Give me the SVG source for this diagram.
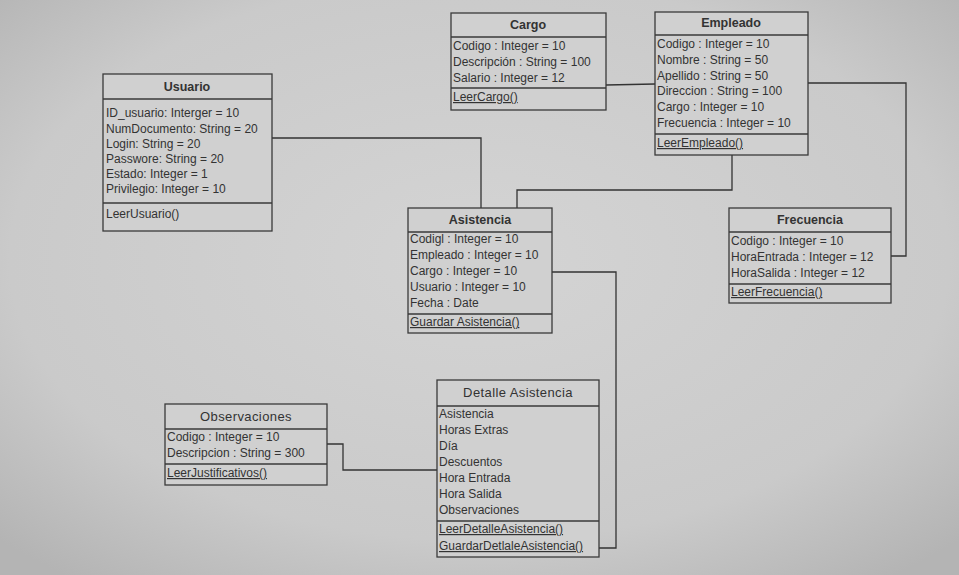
<svg xmlns="http://www.w3.org/2000/svg" width="959" height="575" viewBox="0 0 959 575">
<defs>
<radialGradient id="bg" cx="50%" cy="45%" r="70%">
<stop offset="0" stop-color="#d4d4d4"/>
<stop offset="0.7" stop-color="#cacaca"/>
<stop offset="1" stop-color="#b4b4b4"/>
</radialGradient>
</defs>
<style>
.box{fill:#d0d0d0;stroke:#3a3a3a;stroke-width:1.3}
.sep{stroke:#3a3a3a;stroke-width:1.3}
.t{font-family:"Liberation Sans",Arial,sans-serif;font-size:12px;fill:#333}
.h{font-family:"Liberation Sans",Arial,sans-serif;font-size:12.5px;font-weight:bold;fill:#333;text-anchor:middle}
.hr{font-family:"Liberation Sans",Arial,sans-serif;font-size:13px;fill:#333;text-anchor:middle;letter-spacing:0.4px}
.u{text-decoration:underline}
.c{fill:none;stroke:#333;stroke-width:1.3}
</style>
<rect x="0" y="0" width="959" height="575" fill="url(#bg)"/>

<g id="connectors">
<polyline class="c" points="272,138 481,138 481,208"/>
<polyline class="c" points="606,85 655,84"/>
<polyline class="c" points="732,155 732,190 517,190 517,208"/>
<polyline class="c" points="808,83 906,83 906,256 891,256"/>
<polyline class="c" points="552,272 616,272 616,548 599,548"/>
<polyline class="c" points="327,444 343,444 343,470 437,470"/>
</g>

<g id="usuario">
<rect class="box" x="103" y="74" width="169" height="157"/>
<line class="sep" x1="103" y1="99" x2="272" y2="99"/>
<line class="sep" x1="103" y1="203" x2="272" y2="203"/>
<text class="h" x="187" y="91">Usuario</text>
<text class="t" x="106" y="117">ID_usuario: Interger = 10</text>
<text class="t" x="106" y="133">NumDocumento: String = 20</text>
<text class="t" x="106" y="148">Login: String = 20</text>
<text class="t" x="106" y="163">Passwore: String = 20</text>
<text class="t" x="106" y="178">Estado: Integer = 1</text>
<text class="t" x="106" y="193">Privilegio: Integer = 10</text>
<text class="t" x="106" y="218">LeerUsuario()</text>
</g>

<g id="cargo">
<rect class="box" x="451" y="13" width="155" height="97"/>
<line class="sep" x1="451" y1="37" x2="606" y2="37"/>
<line class="sep" x1="451" y1="88" x2="606" y2="88"/>
<text class="h" x="528" y="29">Cargo</text>
<text class="t" x="453" y="50">Codigo : Integer = 10</text>
<text class="t" x="453" y="66">Descripción : String = 100</text>
<text class="t" x="453" y="82">Salario : Integer = 12</text>
<text class="t u" x="453" y="101">LeerCargo()</text>
</g>

<g id="empleado">
<rect class="box" x="655" y="12" width="153" height="143"/>
<line class="sep" x1="655" y1="35" x2="808" y2="35"/>
<line class="sep" x1="655" y1="134" x2="808" y2="134"/>
<text class="h" x="731" y="27">Empleado</text>
<text class="t" x="657" y="48">Codigo : Integer = 10</text>
<text class="t" x="657" y="64">Nombre : String = 50</text>
<text class="t" x="657" y="80">Apellido : String = 50</text>
<text class="t" x="657" y="95">Direccion : String = 100</text>
<text class="t" x="657" y="111">Cargo : Integer = 10</text>
<text class="t" x="657" y="127">Frecuencia : Integer = 10</text>
<text class="t u" x="657" y="147">LeerEmpleado()</text>
</g>

<g id="asistencia">
<rect class="box" x="408" y="208" width="144" height="125"/>
<line class="sep" x1="408" y1="232" x2="552" y2="232"/>
<line class="sep" x1="408" y1="314" x2="552" y2="314"/>
<text class="h" x="480" y="224">Asistencia</text>
<text class="t" x="410" y="243">Codigl : Integer = 10</text>
<text class="t" x="410" y="259">Empleado : Integer = 10</text>
<text class="t" x="410" y="275">Cargo : Integer = 10</text>
<text class="t" x="410" y="291">Usuario : Integer = 10</text>
<text class="t" x="410" y="307">Fecha : Date</text>
<text class="t u" x="410" y="326">Guardar Asistencia()</text>
</g>

<g id="frecuencia">
<rect class="box" x="729" y="208" width="162" height="95"/>
<line class="sep" x1="729" y1="232" x2="891" y2="232"/>
<line class="sep" x1="729" y1="284" x2="891" y2="284"/>
<text class="h" x="810" y="224">Frecuencia</text>
<text class="t" x="731" y="245">Codigo : Integer = 10</text>
<text class="t" x="731" y="261">HoraEntrada : Integer = 12</text>
<text class="t" x="731" y="277">HoraSalida : Integer = 12</text>
<text class="t u" x="731" y="296">LeerFrecuencia()</text>
</g>

<g id="observaciones">
<rect class="box" x="165" y="404" width="162" height="81"/>
<line class="sep" x1="165" y1="429" x2="327" y2="429"/>
<line class="sep" x1="165" y1="464" x2="327" y2="464"/>
<text class="hr" x="246" y="421">Observaciones</text>
<text class="t" x="167" y="441">Codigo : Integer = 10</text>
<text class="t" x="167" y="457">Descripcion : String = 300</text>
<text class="t u" x="167" y="477">LeerJustificativos()</text>
</g>

<g id="detalle-asistencia">
<rect class="box" x="437" y="380" width="162" height="177"/>
<line class="sep" x1="437" y1="406" x2="599" y2="406"/>
<line class="sep" x1="437" y1="521" x2="599" y2="521"/>
<text class="hr" x="518" y="397">Detalle Asistencia</text>
<text class="t" x="439" y="418">Asistencia</text>
<text class="t" x="439" y="434">Horas Extras</text>
<text class="t" x="439" y="450">Día</text>
<text class="t" x="439" y="466">Descuentos</text>
<text class="t" x="439" y="482">Hora Entrada</text>
<text class="t" x="439" y="498">Hora Salida</text>
<text class="t" x="439" y="514">Observaciones</text>
<text class="t u" x="439" y="533">LeerDetalleAsistencia()</text>
<text class="t u" x="439" y="550">GuardarDetlaleAsistencia()</text>
</g>
</svg>
